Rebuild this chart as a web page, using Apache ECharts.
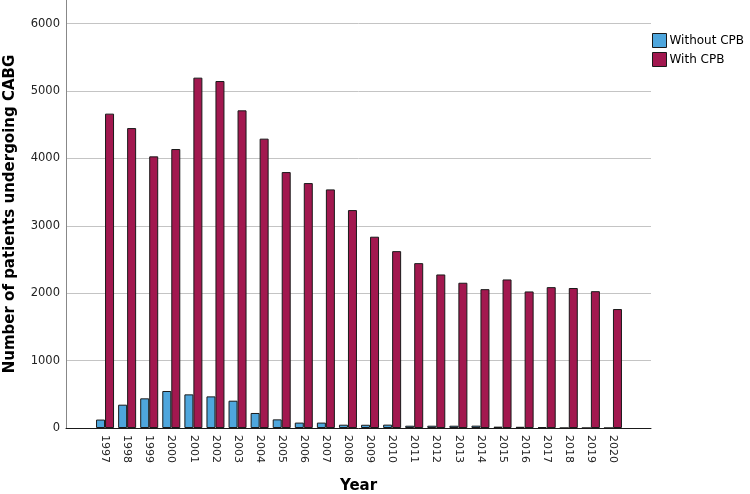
<!DOCTYPE html>
<html>
<head>
<meta charset="utf-8">
<script src="https://cdn.jsdelivr.net/npm/echarts@6/dist/echarts.min.js"></script>
<style>html,body{margin:0;padding:0;background:#fff;}#c{width:750px;height:494px;}</style>
</head>
<body>
<div id="c"></div>
<script>
var years = ['1997','1998','1999','2000','2001','2002','2003','2004','2005','2006','2007','2008','2009','2010','2011','2012','2013','2014','2015','2016','2017','2018','2019','2020'];
var withoutCPB = [125,346,440,549,499,469,405,223,128,80,80,49,48,50,34,34,34,35,20,18,14,0,0,0];
var withCPB = [4664,4450,4030,4139,5198,5148,4713,4293,3797,3634,3540,3233,2838,2624,2446,2278,2155,2060,2204,2026,2090,2077,2030,1765];
var yTicks = [0,1000,2000,3000,4000,5000,6000];

var FONT = 'DejaVu Sans';
var chart = echarts.init(document.getElementById('c'), null, {renderer:'canvas'});
chart.setOption({
  animation: false,
  backgroundColor: '#ffffff',
  textStyle: {fontFamily: FONT},
  legend: {
    orient: 'vertical', left: 652, top: 33, itemWidth: 14, itemHeight: 14, itemGap: 4,
    padding: 0, icon: 'rect',
    textStyle: {fontFamily: FONT, fontSize: 12, color: '#000', padding: [0,0,0,-2]},
    data: [
      {name: 'Without CPB', itemStyle: {color: '#4ea6dd', borderColor: '#1a1a1a', borderWidth: 1}},
      {name: 'With CPB', itemStyle: {color: '#a2184f', borderColor: '#1a1a1a', borderWidth: 1}}
    ]
  },
  grid: [
    {left: 66, right: 99, top: 0, height: 428, outerBoundsMode: 'none', containLabel: false},
    {left: 94, width: 530, top: 0, height: 428, outerBoundsMode: 'none', containLabel: false}
  ],
  xAxis: [
    {gridIndex: 0, type: 'value', min: 0, max: 1,
     axisLine: {show: true, lineStyle: {color: '#1a1a1a', width: 1}},
     axisTick: {show: false}, axisLabel: {show: false}, splitLine: {show: false},
     name: 'Year', nameLocation: 'middle', nameGap: 51,
     nameTextStyle: {fontFamily: FONT, fontSize: 15, fontWeight: 'bold', color: '#000'}},
    {gridIndex: 1, type: 'category', data: years,
     axisLine: {show: false}, axisTick: {show: false},
     axisLabel: {rotate: -90, margin: 7, fontFamily: FONT, fontSize: 11, color: '#222', interval: 0}}
  ],
  yAxis: [
    {gridIndex: 0, type: 'value', min: 0, max: 6350, interval: 1000,
     axisLine: {show: true, lineStyle: {color: '#888', width: 1}},
     axisTick: {show: false},
     axisLabel: {fontFamily: FONT, fontSize: 11.5, color: '#222', margin: 6, showMaxLabel: false,
       formatter: function(v){ return yTicks.indexOf(v) >= 0 ? String(v) : ''; }},
     splitLine: {show: true, showMaxLine: false, lineStyle: {color: '#c4c4c4', width: 1}},
     name: 'Number of patients undergoing CABG', nameLocation: 'middle', nameGap: 48,
     nameTextStyle: {fontFamily: FONT, fontSize: 15, fontWeight: 'bold', color: '#000'}},
    {gridIndex: 1, type: 'value', min: 0, max: 6350, show: false, splitLine: {show: false}}
  ],
  series: [
    {name: 'Without CPB', type: 'bar', xAxisIndex: 1, yAxisIndex: 1, data: withoutCPB,
     barWidth: 9, barGap: '0%',
     itemStyle: {color: '#4ea6dd', borderColor: '#1a1a1a', borderWidth: 1}},
    {name: 'With CPB', type: 'bar', xAxisIndex: 1, yAxisIndex: 1, data: withCPB,
     barWidth: 9, barGap: '0%',
     itemStyle: {color: '#a2184f', borderColor: '#1a1a1a', borderWidth: 1}}
  ]
});
</script>
</body>
</html>
